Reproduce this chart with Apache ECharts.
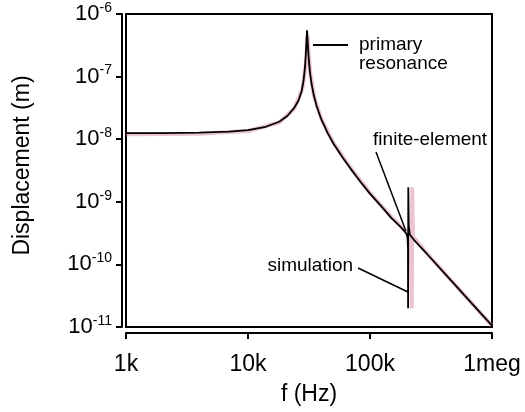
<!DOCTYPE html>
<html><head><meta charset="utf-8">
<script src="https://cdn.jsdelivr.net/npm/echarts@6/dist/echarts.min.js"></script>
<style>html,body{margin:0;padding:0;background:#fff}#c{width:525px;height:412px}</style>
</head><body><div id="c"></div>
<script>
// simulation curve (Hz, m)
const freqSim = [1000,2000,4000,7000,10000,14000,18000,21000,24000,26000,27500,28500,29300,29800,30200,30500,30800,31300,32000,33000,34500,36500,40000,45000,50000,60000,70000,85000,100000,123000,150000,180000,195000,200000,203000,204800,205200,206000,208000,212000,230000,277000,300000,400000,500000,700000,1000000];
const dispSim = [1.25e-8,1.25e-8,1.27e-8,1.32e-8,1.40e-8,1.58e-8,1.90e-8,2.35e-8,3.2e-8,4.2e-8,5.8e-8,8.5e-8,1.4e-7,2.3e-7,4.0e-7,5.5e-7,3.8e-7,2.2e-7,1.3e-7,8.2e-8,5.2e-8,3.4e-8,2.05e-8,1.25e-8,8.6e-9,5.0e-9,3.3e-9,2.0e-9,1.35e-9,8.6e-10,5.5e-10,3.9e-10,3.25e-10,3.0e-10,2.6e-10,1.8e-10,2.0e-11,1.7e-9,4.0e-10,3.0e-10,2.45e-10,1.66e-10,1.40e-10,7.5e-11,4.66e-11,2.26e-11,1.05e-11];
// finite-element curve (Hz, m)
const freqFE = [1000,4000,10000,18000,24000,28000,29800,30800,31300,32500,35000,40000,50000,70000,100000,150000,195000,215000,220000,222000,225000,300000,500000,1000000];
const dispFE = [1.2e-8,1.22e-8,1.35e-8,1.85e-8,3.1e-8,6.5e-8,1.6e-7,4.5e-7,2.6e-7,1.1e-7,4.6e-8,2.1e-8,8.8e-9,3.4e-9,1.38e-9,5.7e-10,3.4e-10,2.9e-10,2.0e-11,1.7e-9,2.8e-10,1.42e-10,4.7e-11,1.05e-11];
const xTicks = [1000,10000,100000,1000000];
const xTickLabels = ['1k','10k','100k','1meg'];
const yTickExp = [-11,-10,-9,-8,-7,-6];
// annotations in data coordinates
const annoTexts = [
  {lines:['primary','resonance'], at:[81300,4.6e-7], align:'left'},
  {lines:['finite-element'], at:[106000,9.7e-9], align:'left'},
  {lines:['simulation'], at:[72600,9.4e-11], align:'right'}
];
const annoLines = [
  {from:[34100,3.2e-7], to:[66100,3.2e-7], w:2},
  {from:[112000,6.25e-9], to:[197000,3.42e-10], w:1.5},
  {from:[79800,8.75e-11], to:[204700,3.62e-11], w:1.5}
];

const simData = freqSim.map((f,i)=>[f,dispSim[i]]);
const feData = freqFE.map((f,i)=>[f,dispFE[i]]);
const FONT = 'Liberation Sans, Arial, sans-serif';

const chart = echarts.init(document.getElementById('c'), null, {renderer:'canvas'});
chart.setOption({
  animation:false,
  backgroundColor:'#fff',
  grid:{left:126, right:33, top:14, bottom:85, show:true, borderColor:'#000', borderWidth:2, backgroundColor:'transparent'},
  xAxis:{
    type:'log', logBase:10, min:1000, max:1000000, offset:6,
    name:'f (Hz)', nameLocation:'middle', nameGap:50,
    nameTextStyle:{fontFamily:FONT, fontSize:23, color:'#000'},
    axisLine:{show:true, lineStyle:{color:'#000', width:2}},
    axisTick:{show:true, length:6, lineStyle:{color:'#000', width:2}},
    splitLine:{show:false}, minorTick:{show:false},
    axisLabel:{margin:20, fontFamily:FONT, fontSize:23, color:'#000',
      formatter:v=>{const i=xTicks.findIndex(t=>Math.abs(Math.log10(t)-Math.log10(v))<1e-6);return i>=0?xTickLabels[i]:'';}}
  },
  yAxis:{
    type:'log', logBase:10, min:1e-11, max:1e-6, offset:4,
    name:'Displacement (m)', nameLocation:'middle', nameGap:88,
    nameTextStyle:{fontFamily:FONT, fontSize:23, color:'#000', padding:[0,0,0,10]},
    axisLine:{show:true, lineStyle:{color:'#000', width:2}},
    axisTick:{show:true, length:6, lineStyle:{color:'#000', width:2}},
    splitLine:{show:false},
    axisLabel:{margin:10, color:'#000',
      formatter:v=>{const e=Math.round(Math.log10(v)); return yTickExp.indexOf(e)>=0?'{b|10}{s|'+e+'}':'';},
      rich:{b:{fontFamily:FONT, fontSize:22, color:'#000', lineHeight:26},
            s:{fontFamily:FONT, fontSize:14, color:'#000', verticalAlign:'top', lineHeight:14}}}
  },
  series:[
    {name:'finite-element', type:'line', data:feData, showSymbol:false, z:2,
      lineStyle:{color:'rgba(215,120,160,0.45)', width:4}},
    {name:'simulation', type:'line', data:simData, showSymbol:false, z:3,
      lineStyle:{color:'#000', width:1.8}}
  ]
});

function px(p){return chart.convertToPixel({gridIndex:0}, p);}
const g = [];
annoTexts.forEach(a=>{
  const p = px(a.at);
  g.push({type:'text', x:p[0], y:p[1], z:10, style:{text:a.lines.join('\n'), font:'19px '+FONT, fill:'#000',
    align:a.align, verticalAlign:a.lines.length>1?'top':'middle', lineHeight:19}});
});
annoLines.forEach(l=>{
  const a = px(l.from), b = px(l.to);
  g.push({type:'line', z:10, shape:{x1:a[0],y1:a[1],x2:b[0],y2:b[1]}, style:{stroke:'#000', lineWidth:l.w}});
});
chart.setOption({graphic:g});
</script></body></html>
